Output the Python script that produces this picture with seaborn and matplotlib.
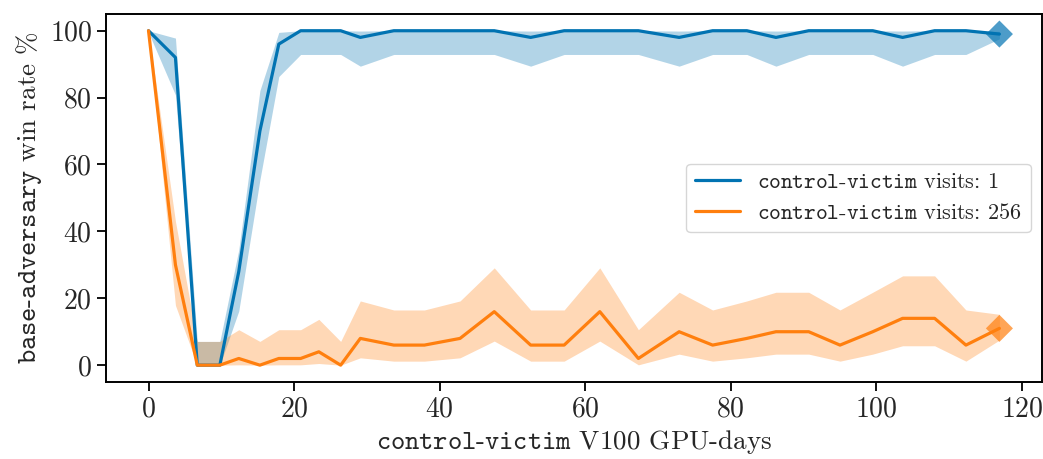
import numpy as np
import pandas as pd
import seaborn as sns
import matplotlib.pyplot as plt

# GPU-days do control-victim em cada avaliação
gpu_days = [0, 3.7, 6.7, 9.8, 12.4, 15.3, 17.9, 20.9, 23.4, 26.4, 29.1, 33.7, 37.9, 42.8,
            47.5, 52.5, 57.1, 62.0, 67.3, 72.9, 77.5, 82.2, 86.2, 90.7, 95.0, 99.5,
            103.6, 108.0, 112.3, 116.9]

# visits = 1
win_v1 = [100, 92, 0, 0, 28, 70, 96, 100, 100, 100, 98, 100, 100, 100,
          100, 98, 100, 100, 100, 98, 100, 100, 98, 100, 100, 100,
          98, 100, 100, 99]
low_v1 = [99.5, 80.8, 0, 0, 16.2, 55.4, 86.3, 92.9, 92.9, 92.9, 89.4, 92.9, 92.9, 92.9,
          92.9, 89.4, 92.9, 92.9, 92.9, 89.4, 92.9, 92.9, 89.4, 92.9, 92.9, 92.9,
          89.4, 92.9, 92.9, 97.6]
high_v1 = [100, 97.8, 7.1, 7.1, 34.5, 82.1, 99.5, 100, 100, 100, 99.9, 100, 100, 100,
           100, 99.9, 100, 100, 100, 99.9, 100, 100, 99.9, 100, 100, 100,
           99.9, 100, 100, 99.8]

# visits = 256
win_v256 = [100, 30, 0, 0, 2, 0, 2, 2, 4, 0, 8, 6, 6, 8,
            16, 6, 6, 16, 2, 10, 6, 8, 10, 10, 6, 10,
            14, 14, 6, 11]
low_v256 = [99.5, 17.9, 0, 0, 0.1, 0, 0.1, 0.1, 0.5, 0, 2.2, 1.2, 1.2, 2.2,
            7.2, 1.2, 1.2, 7.2, 0.1, 3.3, 1.2, 2.2, 3.3, 3.3, 1.2, 3.3,
            5.8, 5.8, 1.2, 7.5]
high_v256 = [100, 43, 7.1, 7.1, 10.6, 7.1, 10.6, 10.6, 13.7, 7.1, 19.2, 16.5, 16.5, 19.2,
             29.1, 16.5, 16.5, 29.1, 10.6, 21.8, 16.5, 19.2, 21.8, 21.8, 16.5, 21.8,
             26.7, 26.7, 16.5, 15.2]

labels = [r"$\mathtt{control}$-$\mathtt{victim}$ visits: 1",
          r"$\mathtt{control}$-$\mathtt{victim}$ visits: 256"]
colors = ["#0173b2", "#ff7f0e"]

sns.set_style("ticks")
plt.rcParams['font.family'] = ['cmr10', 'DejaVu Sans']
plt.rcParams['mathtext.fontset'] = 'cm'
plt.rcParams['axes.formatter.use_mathtext'] = True
plt.rcParams['axes.unicode_minus'] = False

df = pd.DataFrame({
    'x': gpu_days * 2,
    'y': win_v1 + win_v256,
    'serie': [labels[0]] * len(gpu_days) + [labels[1]] * len(gpu_days),
})

fig, ax = plt.subplots(figsize=(10.43, 4.59), dpi=100)
fig.subplots_adjust(left=0.1016, right=0.999, bottom=0.168, top=0.9695)

# Intervalos de confiança
ax.fill_between(gpu_days, low_v1, high_v1, color=colors[0], alpha=0.3, linewidth=0)
ax.fill_between(gpu_days, low_v256, high_v256, color=colors[1], alpha=0.3, linewidth=0)

# Curvas
sns.lineplot(data=df, x='x', y='y', hue='serie', palette=dict(zip(labels, colors)),
             linewidth=2.3, ax=ax)

# Marcador no último ponto
ends = pd.DataFrame({'x': [gpu_days[-1]] * 2, 'y': [win_v1[-1], win_v256[-1]],
                     'serie': labels})
sns.scatterplot(data=ends, x='x', y='y', hue='serie', palette=dict(zip(labels, colors)),
                marker='D', s=190, alpha=0.7, linewidth=0, legend=False, ax=ax, zorder=2.5)

ax.set_xlabel(r"$\mathtt{control}$-$\mathtt{victim}$ V100 GPU-days", fontsize=19.5)
ax.set_ylabel(r"$\mathtt{base}$-$\mathtt{adversary}$ win rate %", fontsize=19.5)
ax.tick_params(axis='both', labelsize=20, length=6.5, width=1.3, color='black')
for s in ax.spines.values():
    s.set_color('black')
    s.set_linewidth(1.4)
ax.set_yticks([0, 20, 40, 60, 80, 100])
ax.set_xticks([0, 20, 40, 60, 80, 100, 120])

sns.move_legend(ax, "center right", title=None, fontsize=16, frameon=True)

plt.savefig('out.png', dpi=100)
